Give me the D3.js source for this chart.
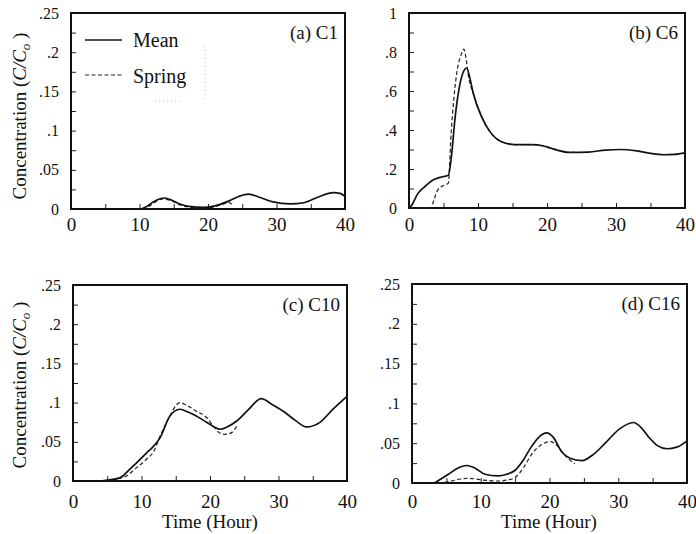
<!DOCTYPE html>
<html><head><meta charset="utf-8">
<script src="https://cdn.jsdelivr.net/npm/d3@7"></script>
<style>body{margin:0;background:#fff}svg{display:block}text{font-family:"Liberation Serif","Times New Roman",serif;fill:#111}</style>
</head><body><svg id="c" width="696" height="534"></svg>
<script>
// ---- data (time in hours, concentration C/Co) ----
const panelTitles = ["(a) C1", "(b) C6", "(c) C10", "(d) C16"];
const legendLabels = ["Mean", "Spring"];
const xTicks = [0, 5, 10, 15, 20, 25, 30, 35, 40];
const xTickLabels = [0, 10, 20, 30, 40];
const yTicksSmall = [0, 0.025, 0.05, 0.075, 0.1, 0.125, 0.15, 0.175, 0.2, 0.225, 0.25];
const yLabelsSmall = [0, 0.05, 0.1, 0.15, 0.2, 0.25];
const yTicksLarge = [0, 0.1, 0.2, 0.3, 0.4, 0.5, 0.6, 0.7, 0.8, 0.9, 1];
const yLabelsLarge = [0, 0.2, 0.4, 0.6, 0.8, 1];

const c1Mean = [[0,0],[10,0],[11,0.003],[12,0.009],[13,0.013],[13.6,0.014],[14.5,0.012],[16,0.006],[17.5,0.003],[19.3,0.002],[21,0.004],[23,0.01],[24.5,0.016],[25.9,0.019],[27.5,0.015],[29.5,0.009],[32,0.0065],[34,0.008],[36,0.015],[38.3,0.021],[39.3,0.02],[40,0.016]];
const c1Spring = [[0,0],[10.5,0],[11.5,0.004],[12.5,0.01],[13.5,0.013],[14.5,0.011],[16,0.005],[17.5,0.002],[19,0.001],[21,0.003],[22.5,0.007],[23,0.0085],[23.6,0.005]];

const c6Mean = [[0,0],[0.3,0.01],[1.3,0.075],[2.3,0.11],[3.3,0.14],[4.5,0.157],[5.7,0.168],[6.1,0.25],[6.7,0.47],[7.3,0.62],[7.9,0.7],[8.35,0.718],[8.8,0.67],[9.3,0.59],[10.5,0.47],[11.7,0.393],[13.4,0.34],[15.4,0.325],[17.8,0.325],[19.5,0.318],[20.7,0.305],[23.3,0.285],[26,0.287],[28.5,0.297],[30.6,0.3],[33,0.293],[35,0.28],[36.9,0.273],[38.5,0.275],[40,0.283]];
const c6Spring = [[0,0],[3.2,0],[3.6,0.04],[4.2,0.094],[5,0.115],[5.7,0.128],[6.1,0.38],[6.5,0.56],[7,0.71],[7.5,0.78],[7.95,0.815],[8.3,0.76],[8.6,0.68],[9.3,0.59],[10.5,0.47],[11.7,0.393],[13.4,0.34],[15.4,0.325],[17.8,0.325],[19.5,0.318],[20.7,0.305],[23.3,0.285],[24,0.285]];

const c10Mean = [[0,0],[3.9,0],[5,0.001],[6.85,0.004],[8.3,0.015],[9.5,0.025],[10.75,0.036],[11.5,0.042],[12.7,0.055],[14.15,0.083],[15.6,0.0915],[16.5,0.089],[18,0.083],[19.5,0.075],[21.5,0.066],[22.5,0.069],[23.9,0.0765],[25.5,0.09],[27.5,0.105],[29,0.098],[30.7,0.089],[32.5,0.077],[34.1,0.069],[36,0.0745],[38,0.092],[40,0.108]];
const c10Spring = [[0,0],[4.9,0],[6.5,0.003],[7.8,0.0065],[9,0.015],[10.75,0.028],[11.8,0.038],[12.7,0.057],[14.15,0.083],[15,0.096],[15.6,0.1],[16.5,0.097],[18,0.089],[19.5,0.081],[20.5,0.07],[21.3,0.062],[22.2,0.0595],[23.2,0.062],[23.9,0.07]];

const c16Mean = [[0,0],[3.1,0],[4.2,0.005],[5.3,0.011],[6.5,0.018],[8,0.022],[9.3,0.018],[10.6,0.011],[12.5,0.009],[13.8,0.011],[15,0.016],[16.2,0.029],[17.4,0.046],[18.5,0.058],[19.6,0.063],[20.5,0.058],[21.8,0.039],[23,0.031],[24.7,0.028],[26.4,0.036],[28.1,0.05],[30.2,0.068],[32.2,0.076],[33.3,0.07],[34.4,0.058],[35.7,0.047],[37.1,0.043],[38.5,0.045],[40,0.053]];
const c16Spring = [[0,0],[3.6,0],[5.5,0.002],[7,0.005],[8.2,0.006],[10,0.004],[12.5,0.0025],[14,0.004],[15,0.007],[16.2,0.019],[17.4,0.036],[18.8,0.048],[20.1,0.052],[21,0.048],[21.8,0.039],[22.8,0.03],[23.7,0.024]];

// ---- layout ----
const svg = d3.select("#c");
const panels = [
  {box:[71,345,13,209], yMax:0.25, yT:yTicksSmall, yL:yLabelsSmall, mean:c1Mean, spring:c1Spring, title:panelTitles[0], xLabBase:232},
  {box:[409,685,13,208], yMax:1, yT:yTicksLarge, yL:yLabelsLarge, mean:c6Mean, spring:c6Spring, title:panelTitles[1], xLabBase:232},
  {box:[73,347,285,481], yMax:0.25, yT:yTicksSmall, yL:yLabelsSmall, mean:c10Mean, spring:c10Spring, title:panelTitles[2], xLabBase:509},
  {box:[412,687,284,483], yMax:0.25, yT:yTicksSmall, yL:yLabelsSmall, mean:c16Mean, spring:c16Spring, title:panelTitles[3], xLabBase:509}
];
const fmtY = d => d === 0 ? "0" : (d === 1 ? "1" : d3.format(".2~f")(d).replace(/^0/, ""));

panels.forEach((p, i) => {
  const [x0, x1, y0, y1] = p.box;
  const x = d3.scaleLinear().domain([0, 40]).range([x0, x1]);
  const y = d3.scaleLinear().domain([0, p.yMax]).range([y1, y0]);
  const g = svg.append("g");

  // x axis (ticks inward)
  const xa = g.append("g").attr("transform", `translate(0,${y1})`)
    .call(d3.axisBottom(x).tickValues(xTicks).tickSizeInner(-5).tickSizeOuter(0)
      .tickPadding(p.xLabBase - y1 - 14).tickFormat(d => xTickLabels.includes(d) ? d : ""));
  xa.select(".domain").remove();
  xa.selectAll("line").attr("stroke", "#222").attr("stroke-width", 1);
  xa.selectAll("text").attr("font-size", 19).attr("font-family", "Liberation Serif").attr("fill", "#111");

  // y axis
  const ya = g.append("g").attr("transform", `translate(${x0},0)`)
    .call(d3.axisLeft(y).tickValues(p.yT).tickSizeInner(-5).tickSizeOuter(0).tickPadding(12)
      .tickFormat(d => p.yL.some(v => Math.abs(v - d) < 1e-9) ? fmtY(d) : ""));
  ya.select(".domain").remove();
  ya.selectAll("line").attr("stroke", "#222").attr("stroke-width", 1);
  ya.selectAll("text").attr("font-size", 16).attr("font-family", "Liberation Serif").attr("fill", "#111");

  // frame
  g.append("rect").attr("x", x0).attr("y", y0).attr("width", x1 - x0).attr("height", y1 - y0)
    .attr("fill", "none").attr("stroke", "#111").attr("stroke-width", 2);

  const line = d3.line().x(d => x(d[0])).y(d => y(d[1])).curve(d3.curveMonotoneX);
  g.append("path").datum(p.spring).attr("d", line).attr("fill", "none")
    .attr("stroke", "#222").attr("stroke-width", 1.2).attr("stroke-dasharray", "4,2.5");
  g.append("path").datum(p.mean).attr("d", line).attr("fill", "none")
    .attr("stroke", "#111").attr("stroke-width", 1.7);

  g.append("text").attr("x", x1 - 7).attr("y", y0 + 26).attr("text-anchor", "end")
    .attr("font-size", 19).text(p.title);
});

// y-axis titles
[116, 385].forEach(cy => {
  const t = svg.append("text").attr("transform", `translate(26,${cy}) rotate(-90)`)
    .attr("text-anchor", "middle").attr("font-size", 19);
  t.append("tspan").text("Concentration (");
  t.append("tspan").attr("font-style", "italic").text("C/C");
  t.append("tspan").attr("font-style", "italic").attr("font-size", 13).attr("dy", 4).text("o");
  t.append("tspan").attr("dy", -4).text(" )");
});

// x-axis titles
[210, 549].forEach(cx => {
  svg.append("text").attr("x", cx).attr("y", 528).attr("text-anchor", "middle")
    .attr("font-size", 19).text("Time (Hour)");
});

// legend (panel a)
const lg = svg.append("g");
lg.append("line").attr("x1", 85).attr("x2", 122).attr("y1", 40).attr("y2", 40)
  .attr("stroke", "#111").attr("stroke-width", 1.7);
lg.append("line").attr("x1", 85).attr("x2", 122).attr("y1", 75).attr("y2", 75)
  .attr("stroke", "#222").attr("stroke-width", 1.2).attr("stroke-dasharray", "4,2.5");
lg.append("text").attr("x", 133).attr("y", 47).attr("font-size", 20).text(legendLabels[0]);
lg.append("text").attr("x", 133).attr("y", 83).attr("font-size", 20).text(legendLabels[1]);
lg.append("path").attr("d", "M205,46V102 M155,101H180")
  .attr("fill", "none").attr("stroke", "#aaa").attr("stroke-width", 0.8).attr("stroke-dasharray", "1,3");
</script></body></html>
